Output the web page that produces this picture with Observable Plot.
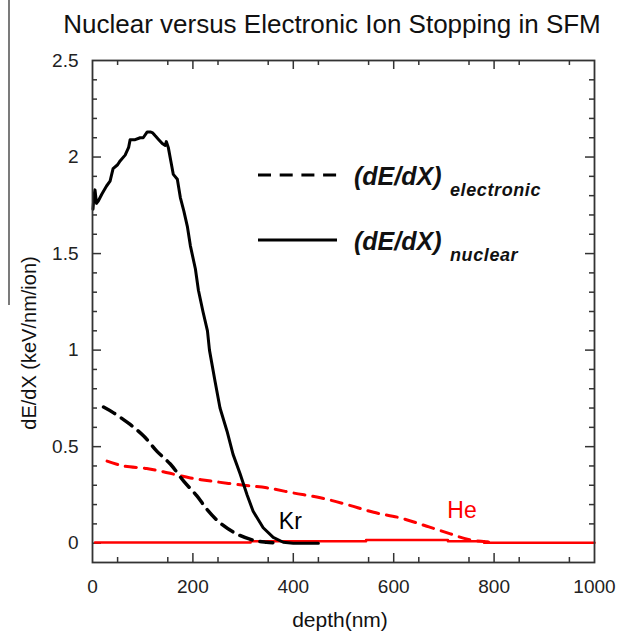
<!DOCTYPE html>
<html><head><meta charset="utf-8">
<script src="https://cdn.jsdelivr.net/npm/d3@7"></script>
<script src="https://cdn.jsdelivr.net/npm/@observablehq/plot@0.6"></script>
<style>
body{margin:0;background:#fff;}
#wrap{position:relative;width:618px;height:634px;overflow:hidden;background:#fff}
#wrap > svg{position:absolute;left:0;top:0}
#overlay{pointer-events:none}
</style>
</head><body>
<div id="wrap"></div>
<script>
// ---- data ----
const krNuclearDepth = [1, 3, 5, 8, 11, 19, 28, 35, 41, 50, 55, 65, 72, 75, 85, 95, 101, 109, 115, 120, 125, 132, 139, 145, 147, 151, 156, 161, 169, 175, 182, 189, 195, 205, 211, 220, 229, 233, 244, 254, 268, 280, 294, 308, 320, 340, 360, 380, 400, 450];
const krNuclearDedx  = [1.73, 1.80, 1.83, 1.76, 1.77, 1.81, 1.85, 1.875, 1.94, 1.96, 1.98, 2.01, 2.05, 2.09, 2.09, 2.10, 2.10, 2.13, 2.13, 2.125, 2.11, 2.09, 2.07, 2.06, 2.08, 2.05, 1.98, 1.91, 1.885, 1.79, 1.72, 1.64, 1.54, 1.42, 1.31, 1.20, 1.10, 1.0, 0.84, 0.70, 0.58, 0.46, 0.36, 0.25, 0.165, 0.08, 0.03, 0.005, 0.0, 0.0];

const krElectronicDepth = [22, 42, 75, 102, 128, 155, 182, 208, 228, 254, 288, 321, 347, 374];
const krElectronicDedx  = [0.705, 0.675, 0.615, 0.555, 0.477, 0.41, 0.32, 0.245, 0.175, 0.105, 0.047, 0.015, 0.005, 0.0];

const heElectronicDepth = [29, 62, 108, 141, 195, 241, 301, 347, 400, 454, 507, 560, 613, 666, 713, 749, 786, 802];
const heElectronicDedx  = [0.425, 0.40, 0.387, 0.37, 0.338, 0.32, 0.30, 0.287, 0.26, 0.235, 0.20, 0.16, 0.131, 0.088, 0.048, 0.019, 0.007, 0.005];

const heNuclearDepth = [5, 315, 545, 708, 780, 1000];
const heNuclearDedx  = [0.003, 0.01, 0.016, 0.01, 0.002, 0.002];

const ionLabels     = ["Kr", "He"];
const ionLabelDepth = [394, 736];
const ionLabelDedx  = [0.11, 0.17];
const ionLabelColor = ["#000", "#ff0000"];

const xTicks = [0, 200, 400, 600, 800, 1000];
const xTickLabels = ["0", "200", "400", "600", "800", "1000"];
const yTicks = [0, 0.5, 1, 1.5, 2, 2.5];
const yTickLabels = ["0", "0.5", "1", "1.5", "2", "2.5"];
const xMinorTicks = d3.range(50, 1000, 100);
const yMinorTicks = d3.range(1, 25).filter(k => k % 5 !== 0).map(k => k / 10);

const titleText = "Nuclear versus Electronic Ion Stopping in SFM";
const xLabel = "depth(nm)";
const yLabel = "dE/dX (keV/nm/ion)";
const legendMain = "(dE/dX)";
const legendSubs = ["electronic", "nuclear"];

// ---- tables ----
const toRows = (xs, ys) => xs.map((x, i) => ({depth: x, dedx: ys[i]}));
const krNuclear = toRows(krNuclearDepth, krNuclearDedx);
const krElectronic = toRows(krElectronicDepth, krElectronicDedx);
const heElectronic = toRows(heElectronicDepth, heElectronicDedx);
const heNuclear = toRows(heNuclearDepth, heNuclearDedx);
const ionRows = ionLabels.map((t, i) => ({label: t, depth: ionLabelDepth[i], dedx: ionLabelDedx[i], color: ionLabelColor[i]}));

const W = 618, H = 634, mL = 92, mR = 24, mT = 60, mB = 72;
const innerW = W - mL - mR, innerH = H - mT - mB;
const frameColor = "#333";
const font = "Liberation Sans, Arial, Helvetica, sans-serif";

const tickMarks = (vals, len) => [
  Plot.ruleX(vals, {x: d => d, insetTop: innerH - len, stroke: frameColor, strokeWidth: 1.5}),
  Plot.ruleX(vals, {x: d => d, insetBottom: innerH - len, stroke: frameColor, strokeWidth: 1.5})
];
const tickMarksY = (vals, len) => [
  Plot.ruleY(vals, {y: d => d, insetRight: innerW - len, stroke: frameColor, strokeWidth: 1.5}),
  Plot.ruleY(vals, {y: d => d, insetLeft: innerW - len, stroke: frameColor, strokeWidth: 1.5})
];

const chart = Plot.plot({
  width: W, height: H,
  marginLeft: mL, marginRight: mR, marginTop: mT, marginBottom: mB,
  x: {domain: [0, 1000]},
  y: {domain: [-0.1, 2.5]},
  style: {fontFamily: font, fontSize: "19px", color: "#222", background: "white"},
  marks: [
    ...tickMarks(xMinorTicks, 5),
    ...tickMarks(xTicks.slice(1, -1), 9),
    ...tickMarksY(yMinorTicks, 5),
    ...tickMarksY(yTicks.slice(0, -1), 9),
    Plot.axisX(xTicks, {tickSize: 0, tickPadding: 17, label: null, tickFormat: d => xTickLabels[xTicks.indexOf(d)]}),
    Plot.axisY(yTicks, {tickSize: 0, tickPadding: 14, label: null, tickFormat: d => yTickLabels[yTicks.indexOf(d)]}),
    Plot.line(heNuclear, {x: "depth", y: "dedx", stroke: "#ff0000", strokeWidth: 2.5, curve: "step-after"}),
    Plot.line(heElectronic, {x: "depth", y: "dedx", stroke: "#ff0000", strokeWidth: 3, strokeDasharray: "11,8", curve: "catmull-rom"}),
    Plot.line(krElectronic, {x: "depth", y: "dedx", stroke: "#000", strokeWidth: 3.5, strokeDasharray: "13,8", curve: "catmull-rom"}),
    Plot.line(krNuclear, {x: "depth", y: "dedx", stroke: "#000", strokeWidth: 3, strokeLinejoin: "round"}),
    Plot.text(ionRows, {x: "depth", y: "dedx", text: "label", fill: "color", fontSize: 23}),
    Plot.frame({stroke: frameColor, strokeWidth: 1.8})
  ]
});
document.getElementById("wrap").appendChild(chart);

// ---- overlay: title, axis titles, legend ----
const ns = "http://www.w3.org/2000/svg";
const ov = d3.select("#wrap").append("svg").attr("id", "overlay")
  .attr("width", W).attr("height", H).attr("xmlns", ns)
  .style("font-family", font);

ov.append("line").attr("x1", 9).attr("x2", 9).attr("y1", 0).attr("y2", 305)
  .attr("stroke", "#333").attr("stroke-width", 1.3);

ov.append("text").attr("x", 332).attr("y", 33).attr("text-anchor", "middle")
  .attr("font-size", 26).attr("fill", "#111").text(titleText);

ov.append("text").attr("x", 340).attr("y", 627).attr("text-anchor", "middle")
  .attr("font-size", 21).attr("fill", "#111").text(xLabel);

ov.append("text").attr("transform", "translate(36,343) rotate(-90)").attr("text-anchor", "middle")
  .attr("font-size", 20).attr("fill", "#111").text(yLabel);

const legendRows = [{y: 175, dash: "13,8.7"}, {y: 240, dash: null}];
legendRows.forEach((r, i) => {
  const ln = ov.append("line").attr("x1", 258).attr("x2", 337).attr("y1", r.y).attr("y2", r.y)
    .attr("stroke", "#000").attr("stroke-width", 3);
  if (r.dash) ln.attr("stroke-dasharray", r.dash);
  const t = ov.append("text").attr("x", 354).attr("y", r.y + 10)
    .attr("font-weight", "bold").attr("font-style", "italic").attr("fill", "#111");
  t.append("tspan").attr("font-size", 25).text(legendMain);
  t.append("tspan").attr("x", 450).attr("font-size", 18).attr("dy", 11).attr("letter-spacing", 0.6).text(legendSubs[i]);
});
</script>
</body></html>
